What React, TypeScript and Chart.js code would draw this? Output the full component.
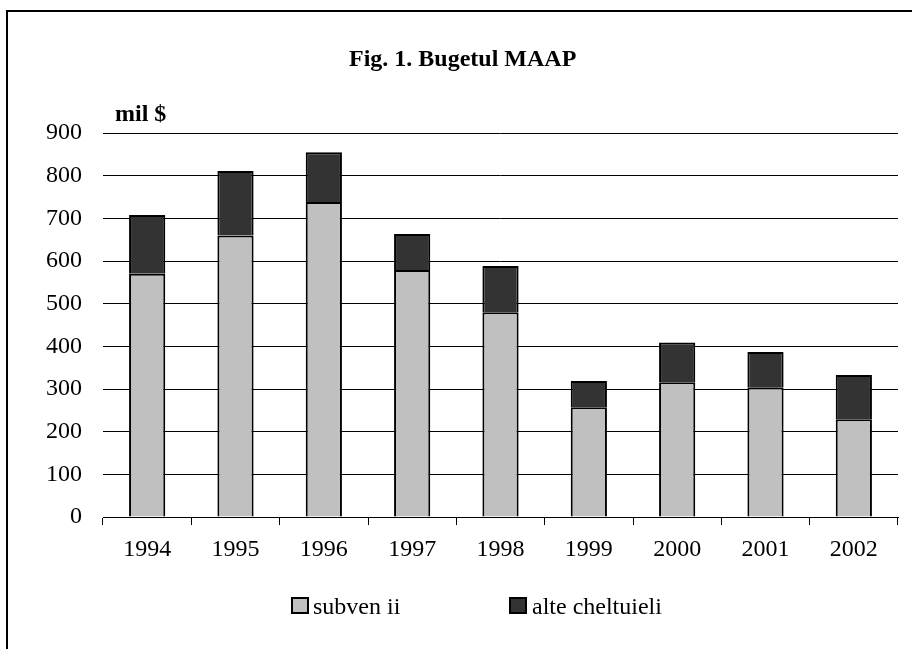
import React, { useEffect, useRef } from "react";
import { Chart, registerables } from "chart.js";

Chart.register(...registerables);

const years = ["1994", "1995", "1996", "1997", "1998", "1999", "2000", "2001", "2002"];
const subventii = [570, 660, 738, 579, 480, 257, 316, 304, 229];
const alteCheltuieli = [138, 151, 117, 84, 108, 62, 93, 83, 104];
const seriesNames = ["subven ii", "alte cheltuieli"];
const titleText = "Fig. 1. Bugetul MAAP";
const unitText = "mil $";

const FONT = "'Liberation Serif', 'Times New Roman', serif";

export default function App() {
  const ref = useRef<HTMLCanvasElement | null>(null);

  useEffect(() => {
    if (!ref.current) return;
    const deco = {
      id: "deco",
      afterDraw(chart: any) {
        const ctx = chart.ctx;
        ctx.save();
        // frame
        ctx.strokeStyle = "#000";
        ctx.lineWidth = 2;
        ctx.beginPath();
        ctx.moveTo(6, 11);
        ctx.lineTo(912, 11);
        ctx.moveTo(7, 10);
        ctx.lineTo(7, 649);
        ctx.stroke();
        // title
        ctx.fillStyle = "#000";
        ctx.font = "bold 24px " + FONT;
        ctx.textBaseline = "alphabetic";
        ctx.textAlign = "left";
        ctx.fillText(titleText, 349, 66);
        ctx.fillText(unitText, 115, 121);
        // legend
        ctx.font = "24px " + FONT;
        const items = [
          { x: 292, tx: 313, color: "#c0c0c0" },
          { x: 510, tx: 532, color: "#333333" },
        ];
        items.forEach((it, i) => {
          ctx.fillStyle = it.color;
          ctx.fillRect(it.x, 598, 16, 15);
          ctx.strokeStyle = "#000";
          ctx.lineWidth = 2;
          ctx.strokeRect(it.x, 598, 16, 15);
          ctx.fillStyle = "#000";
          ctx.fillText(seriesNames[i], it.tx, 614);
        });
        ctx.restore();
      },
    };

    const chart = new Chart(ref.current, {
      type: "bar",
      data: {
        labels: years,
        datasets: [
          {
            label: seriesNames[0],
            data: subventii,
            backgroundColor: "#c0c0c0",
            borderColor: "#000",
            borderWidth: 2,
            barPercentage: 0.41,
            categoryPercentage: 1,
          },
          {
            label: seriesNames[1],
            data: alteCheltuieli,
            backgroundColor: "#333333",
            borderColor: "#000",
            borderWidth: 2,
            barPercentage: 0.41,
            categoryPercentage: 1,
          },
        ],
      },
      options: {
        animation: false,
        responsive: false,
        maintainAspectRatio: false,
        layout: { padding: { left: 0, right: 14, top: 133, bottom: 82 } },
        plugins: {
          legend: { display: false },
          title: { display: false },
          tooltip: { enabled: false },
        },
        scales: {
          x: {
            stacked: true,
            afterFit: (s: any) => {
              s.height = 50;
            },
            border: { display: true, color: "#000", width: 1 },
            grid: {
              offset: true,
              drawOnChartArea: false,
              drawTicks: true,
              tickLength: 8,
              color: "#000",
            },
            ticks: {
              color: "#000",
              font: { family: FONT, size: 24 },
              padding: 10,
              maxRotation: 0,
            },
          },
          y: {
            stacked: true,
            min: 0,
            max: 900,
            afterFit: (s: any) => {
              s.width = 103;
            },
            border: { display: false },
            grid: { color: "#000", lineWidth: 1, drawTicks: false },
            ticks: {
              stepSize: 100,
              color: "#000",
              font: { family: FONT, size: 24 },
              padding: 21,
            },
          },
        },
      },
      plugins: [deco],
    });
    return () => chart.destroy();
  }, []);

  return (
    <div style={{ position: "fixed", left: 0, top: 0, width: 912, height: 649, background: "#fff" }}>
      <canvas ref={ref} width={912} height={649} style={{ width: 912, height: 649 }} />
    </div>
  );
}
